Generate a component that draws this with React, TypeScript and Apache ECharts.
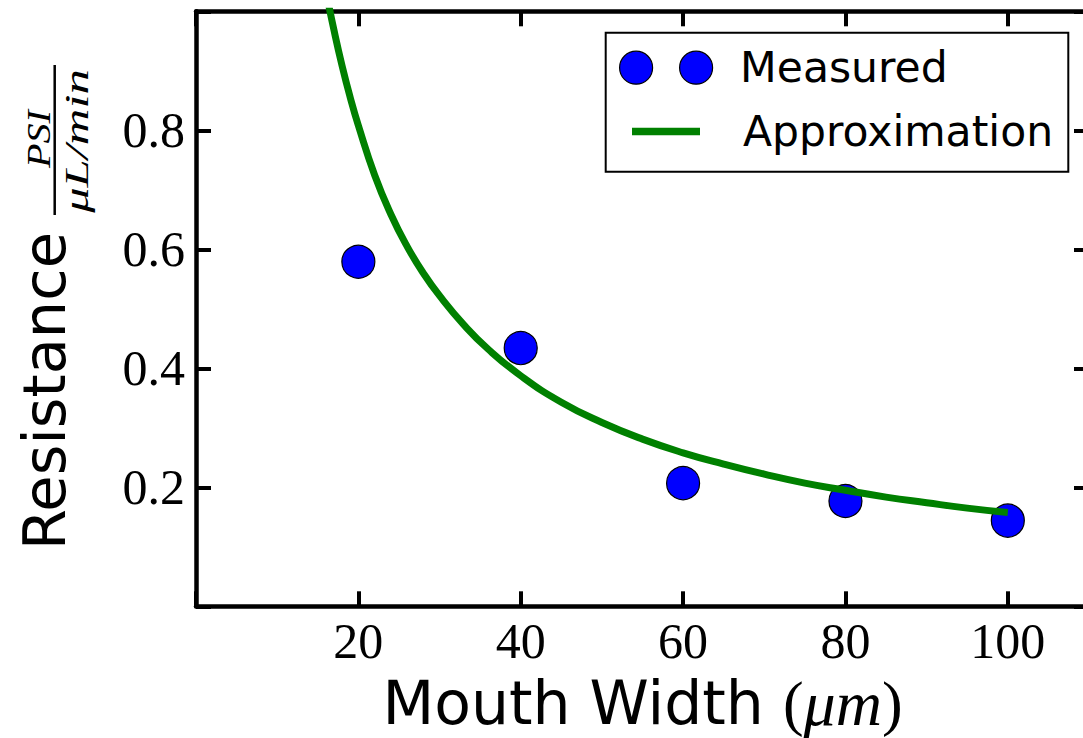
import React, { useEffect, useRef } from "react";
import * as echarts from "echarts";

// Measured points
const measuredX = [20, 40, 60, 80, 100];
const measuredY = [0.579, 0.434, 0.207, 0.177, 0.144];

// Approximation curve
const approxX = [16, 17, 18, 19, 20, 22, 24, 26, 28, 30, 33, 36, 40, 45, 50, 55, 60, 65, 70, 75, 80, 85, 90, 95, 100];
const approxY = [1.034, 0.968, 0.908, 0.855, 0.808, 0.725, 0.659, 0.605, 0.56, 0.522, 0.473, 0.432, 0.3875, 0.343, 0.309, 0.281, 0.258, 0.239, 0.222, 0.207, 0.195, 0.1835, 0.174, 0.165, 0.1575];

const xTickValues = [20, 40, 60, 80, 100];
const yTickValues = [0.2, 0.4, 0.6, 0.8];

const seriesNames = ["Measured", "Approximation"];

export default function App() {
  const ref = useRef<HTMLDivElement>(null);

  useEffect(() => {
    if (!ref.current) return;
    const chart = echarts.init(ref.current, undefined, { renderer: "svg" });

    const axisCommon = {
      type: "value" as const,
      axisLine: { show: true, onZero: false, lineStyle: { color: "#000", width: 4.5 } },
      axisTick: { show: true, inside: true, length: 15, lineStyle: { color: "#000", width: 4 } },
      splitLine: { show: false },
    };

    const xLabelFmt = (v: number) => {
      const hit = xTickValues.find((t) => Math.abs(t - v) < 1e-6);
      return hit !== undefined ? String(hit) : "";
    };
    const yLabelFmt = (v: number) => {
      const hit = yTickValues.find((t) => Math.abs(t - v) < 1e-6);
      return hit !== undefined ? hit.toFixed(1) : "";
    };

    const option = {
      animation: false,
      backgroundColor: "#fff",
      grid: {
        left: 196,
        top: 11.3,
        right: -6,
        bottom: 131.7,
        containLabel: false,
        outerBoundsMode: "none",
      },
      xAxis: [
        {
          ...axisCommon,
          position: "bottom",
          min: 0,
          max: 110,
          interval: 20,
          axisLabel: {
            formatter: xLabelFmt,
            color: "#000",
            fontFamily: "Liberation Serif",
            fontSize: 50,
            margin: 10,
          },
          name: "{a|Mouth Width }{p|(}{m|μm}{p|)}",
          nameLocation: "middle",
          nameGap: 72,
          nameTextStyle: {
            rich: {
              a: { fontFamily: "DejaVu Sans", fontSize: 60, color: "#000", lineHeight: 50 },
              p: { fontFamily: "Liberation Serif", fontSize: 62, color: "#000", lineHeight: 50 },
              m: { fontFamily: "Liberation Serif", fontStyle: "italic", fontSize: 64, color: "#000", lineHeight: 50 },
            },
          },
        },
        {
          ...axisCommon,
          position: "top",
          min: 0,
          max: 110,
          interval: 20,
          axisLabel: { show: false },
        },
      ],
      yAxis: [
        {
          ...axisCommon,
          position: "left",
          min: 0,
          max: 1,
          interval: 0.2,
          axisLabel: {
            formatter: yLabelFmt,
            color: "#000",
            fontFamily: "Liberation Serif",
            fontSize: 50,
            margin: 11,
          },
        },
        {
          ...axisCommon,
          position: "right",
          min: 0,
          max: 1,
          interval: 0.2,
          axisLabel: { show: false },
        },
      ],
      legend: [
        {
          data: [seriesNames[0]],
          left: 619,
          top: 46.2,
          padding: 0,
          itemWidth: 94,
          itemHeight: 33,
          icon: "path://M0,16.5A16.5,16.5,0,1,1,33,16.5A16.5,16.5,0,1,1,0,16.5ZM60,16.5A16.5,16.5,0,1,1,93,16.5A16.5,16.5,0,1,1,60,16.5Z",
          itemStyle: { color: "#0000ff", borderColor: "#000", borderWidth: 1.2 },
          textStyle: { color: "#000", fontFamily: "DejaVu Sans", fontSize: 42.5, padding: [0, 0, 0, 22] },
        },
        {
          data: [seriesNames[1]],
          left: 632,
          top: 110,
          padding: 0,
          itemWidth: 68,
          itemHeight: 7.5,
          icon: "rect",
          itemStyle: { color: "#008000", borderWidth: 0 },
          textStyle: { color: "#000", fontFamily: "DejaVu Sans", fontSize: 42.5, padding: [0, 0, 0, 38] },
        },
      ],
      graphic: [
        {
          type: "rect",
          z: 1,
          shape: { x: 605.7, y: 32.7, width: 462.6, height: 139 },
          style: { fill: "#fff", stroke: "#000", lineWidth: 2 },
        },
        {
          type: "group",
          x: 44,
          y: 550,
          rotation: Math.PI / 2,
          children: [
            {
              type: "text",
              x: 0,
              y: 0,
              style: {
                text: "Resistance",
                font: '59px "DejaVu Sans"',
                fill: "#000",
                align: "left",
                verticalAlign: "middle",
              },
            },
            {
              type: "line",
              shape: { x1: 335, y1: 10.7, x2: 485, y2: 10.7 },
              style: { stroke: "#000", lineWidth: 2.5 },
            },
            {
              type: "text",
              x: 411,
              y: -5,
              scaleX: 1.18,
              style: {
                text: "PSI",
                font: 'italic 34px "Liberation Serif"',
                fill: "#000",
                align: "center",
                verticalAlign: "middle",
              },
            },
            {
              type: "text",
              x: 409,
              y: 33,
              scaleX: 1.49,
              style: {
                text: "μL/min",
                font: 'italic 34px "Liberation Serif"',
                fill: "#000",
                align: "center",
                verticalAlign: "middle",
              },
            },
          ],
        },
      ],
      series: [
        {
          name: seriesNames[0],
          type: "scatter",
          xAxisIndex: 0,
          yAxisIndex: 0,
          symbol: "circle",
          symbolSize: 33,
          z: 2,
          itemStyle: { color: "#0000ff", borderColor: "#000", borderWidth: 1.2, opacity: 1 },
          data: measuredX.map((x, i) => [x, measuredY[i]]),
        },
        {
          name: seriesNames[1],
          type: "line",
          xAxisIndex: 0,
          yAxisIndex: 0,
          showSymbol: false,
          symbol: "none",
          smooth: 0.5,
          clip: true,
          z: 3,
          itemStyle: { color: "#008000" },
          lineStyle: { color: "#008000", width: 7, cap: "butt" },
          data: approxX.map((x, i) => [x, approxY[i]]),
        },
      ],
    };

    chart.setOption(option as any);
    return () => chart.dispose();
  }, []);

  return (
    <div
      ref={ref}
      style={{ position: "fixed", left: 0, top: 0, width: 1083, height: 738 }}
    />
  );
}
